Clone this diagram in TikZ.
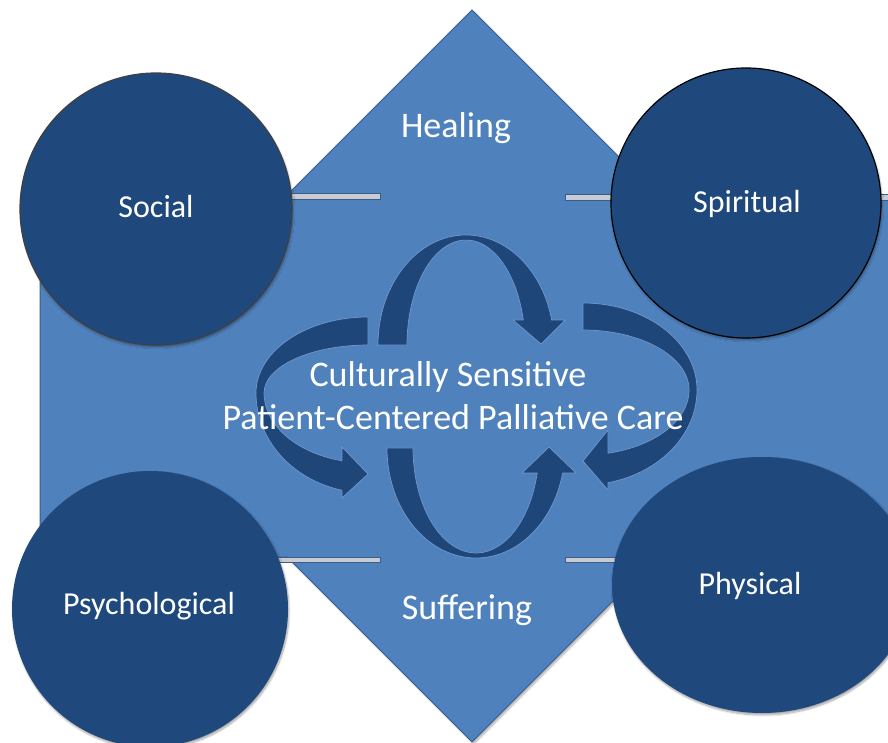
\documentclass[tikz,border=0pt]{standalone}
\usepackage{fontspec}
\setmainfont{Carlito}
\usetikzlibrary{shapes.geometric,shadows.blur}
\definecolor{mainblue}{RGB}{79,129,189}
\definecolor{edgeblue}{RGB}{56,93,140}
\definecolor{darkblue}{RGB}{31,73,125}
\definecolor{arrowblue}{RGB}{30,70,121}
\definecolor{arrowedge}{RGB}{112,152,204}
\definecolor{bargray}{RGB}{200,204,210}
\tikzset{
  bubble/.style={circle, fill=darkblue, inner sep=0pt,
    blur shadow={shadow xshift=1pt, shadow yshift=-2pt, shadow blur steps=6, shadow opacity=35}},
  lbl/.style={text=white, inner sep=0pt, anchor=base, font=\fontsize{32}{38}\selectfont},
  biglbl/.style={text=white, inner sep=0pt, anchor=base, font=\fontsize{36}{42}\selectfont},
  bar/.style={fill=bargray, draw=edgeblue, line width=0.8pt},
  ribbon/.style={fill=arrowblue, draw=arrowedge, line width=0.7pt, line join=miter}
}
\begin{document}
\begin{tikzpicture}[x=1pt,y=1pt]
\useasboundingbox (0,0) rectangle (888,742);
\clip (0,0) rectangle (888,742);
% main hexagonal shape (rectangle + diamond)
\path[fill=mainblue, draw=edgeblue, line width=1pt,
  blur shadow={shadow xshift=2pt, shadow yshift=-2pt, shadow blur steps=6, shadow opacity=30}]
  (40,546) -- (286,546) -- (472,732) -- (658,546) -- (900,546) -- (900,185)
  -- (657,185) -- (472,0) -- (287,185) -- (40,185) -- cycle;
% bars
\path[bar] (200,543) rectangle (380,549);
\path[bar] (565,542) rectangle (900,548);
\path[bar] (200,180) rectangle (380,185);
\path[bar] (565,180) rectangle (900,185);
% circles
\node[bubble, minimum size=272pt, draw={rgb,255:red,64;green,64;blue,64}, line width=1.2pt] (social) at (156,533) {};
\node[bubble, minimum size=270pt, draw=black, line width=1.2pt] (spiritual) at (746,539) {};
\node[bubble, minimum size=276pt] (psych) at (150,133) {};
\node[bubble, ellipse, minimum width=300pt, minimum height=256pt] (physical) at (762,157) {};
% top arrow
\path[ribbon] (378,397) arc[start angle=180, end angle=13.1, x radius=88, y radius=110]
  -- (565,422) -- (541,398) -- (513,422) -- (523.3,422)
  arc[start angle=13.8, end angle=180, x radius=59, y radius=105] -- cycle;
% bottom arrow
\path[ribbon] (387,294) arc[start angle=180, end angle=346.9, x radius=89, y radius=110]
  -- (576,269) -- (549,295) -- (522,269) -- (537.2,269)
  arc[start angle=346.2, end angle=180, x radius=63, y radius=105] -- cycle;
% left arrow
\path[ribbon] (368,425) arc[start angle=90, end angle=180, x radius=112, y radius=76]
  arc[start angle=180, end angle=256.6, x radius=112, y radius=100]
  -- (342,244) -- (368,268) -- (342,295) -- (342,281.2)
  arc[start angle=255.5, end angle=180, x radius=104, y radius=70]
  arc[start angle=180, end angle=90, x radius=104, y radius=48] -- cycle;
% right arrow
\path[ribbon] (583,439) arc[start angle=90, end angle=0, x radius=114, y radius=87]
  arc[start angle=360, end angle=282.7, x radius=114, y radius=95]
  -- (608,252) -- (583,281) -- (608,312) -- (608,288.8)
  arc[start angle=283.6, end angle=360, x radius=106, y radius=65]
  arc[start angle=0, end angle=90, x radius=106, y radius=60] -- cycle;
% labels
\node[biglbl] (healing) at (456,604) {Healing};
\node[biglbl] (suffering) at (467,123) {Suffering};
\node[lbl] (tsocial) at (156,524) {Social};
\node[lbl] (tspiritual) at (747,529) {Spiritual};
\node[lbl] (tpsych) at (149,128) {Psychological};
\node[lbl] (tphysical) at (750,148) {Physical};
\node[biglbl] (center1) at (448,355) {Culturally Sensitive};
\node[biglbl] (center2) at (453,312) {Patient-Centered Palliative Care};
\end{tikzpicture}
\end{document}
